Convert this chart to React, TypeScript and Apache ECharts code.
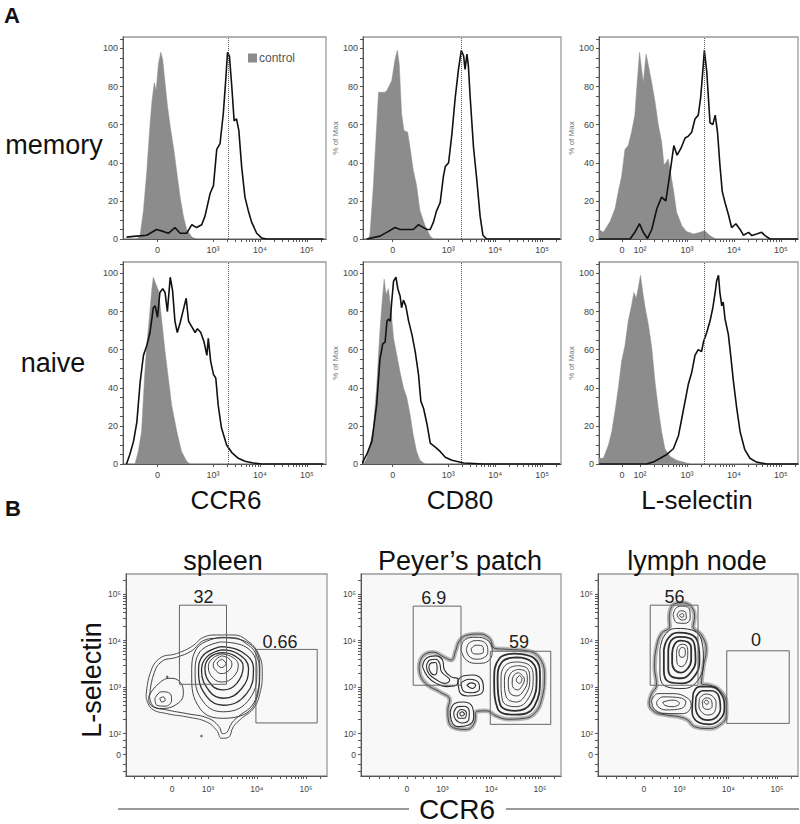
import React, { useEffect, useRef } from 'react';
import * as echarts from 'echarts';

type P = [number, number];

const FONT = '"Liberation Sans", Arial, Helvetica, sans-serif';

// ---------- Panel A: histograms (x = display decades, y = % of max) ----------
const ccr6MemoryControl: P[] = [[1.38,0],[1.45,2],[1.52,15],[1.59,35],[1.66,60],[1.70,72],[1.75,82],[1.79,78],[1.84,92],[1.89,98],[1.93,94],[1.98,82],[2.03,70],[2.09,59],[2.16,48],[2.23,35],[2.30,22],[2.37,12],[2.44,5],[2.55,1],[2.65,0]];
const ccr6MemorySample: P[] = [[1.16,1],[1.31,1.4],[1.59,2],[1.80,5],[1.94,4],[2.05,3],[2.19,6],[2.30,3],[2.44,3],[2.55,7.5],[2.65,6],[2.76,7.5],[2.83,12],[2.94,24],[3.01,28],[3.08,47],[3.15,50],[3.22,66],[3.27,83],[3.31,98],[3.35,96],[3.40,80],[3.45,62],[3.50,63],[3.55,57],[3.61,38],[3.68,22],[3.75,15],[3.82,9],[3.93,3],[4.04,0.5],[4.14,0],[5.35,0]];
const cd80MemoryControl: P[] = [[1.31,0],[1.34,3],[1.41,28],[1.48,59],[1.52,77],[1.59,77],[1.66,77],[1.70,78],[1.80,83],[1.87,94],[1.92,99],[1.96,92],[2.01,66],[2.06,57],[2.14,56],[2.19,48],[2.26,36],[2.33,28],[2.40,15],[2.51,7],[2.62,1.5],[2.69,0]];
const cd80MemorySample: P[] = [[1.27,0],[1.55,1.5],[1.73,4],[1.87,6],[1.98,5],[2.09,5],[2.19,5],[2.26,5],[2.37,7.5],[2.44,6.5],[2.55,5],[2.62,5],[2.69,9],[2.75,14.5],[2.83,19],[2.90,33],[2.94,38],[3.01,40],[3.08,55],[3.15,74],[3.22,89],[3.28,99],[3.33,96],[3.36,89],[3.40,97],[3.43,91],[3.47,74],[3.54,48],[3.61,31],[3.68,12],[3.74,2],[3.82,0],[5.38,0]];
const lselMemoryControl: P[] = [[1.13,5],[1.22,3.5],[1.36,9],[1.47,16],[1.54,25],[1.61,33],[1.68,47],[1.75,49],[1.82,56],[1.89,65],[1.94,82],[1.99,98],[2.04,88],[2.07,82],[2.13,97],[2.18,91],[2.25,82],[2.32,72],[2.39,60],[2.46,51],[2.51,39],[2.55,40],[2.60,42],[2.65,35],[2.71,26],[2.78,14],[2.89,7],[2.99,4],[3.14,2.6],[3.28,3.5],[3.38,4.4],[3.45,2.6],[3.53,1],[3.63,0]];
const lselMemorySample: P[] = [[1.13,0],[1.79,0],[1.89,3.5],[1.99,8],[2.07,3.5],[2.16,0.3],[2.25,5],[2.36,16],[2.46,22],[2.55,20],[2.64,35],[2.72,49],[2.79,44],[2.87,47.5],[2.96,53],[3.03,54],[3.10,56],[3.17,63],[3.24,65],[3.29,74],[3.33,86],[3.37,99],[3.42,88],[3.49,61],[3.55,60],[3.60,65],[3.65,56],[3.70,39],[3.75,25],[3.81,19],[3.88,13],[3.95,6],[4.04,8],[4.13,5],[4.20,2],[4.31,3.5],[4.38,1.8],[4.48,2.6],[4.59,3.5],[4.66,1.8],[4.77,0],[5.36,0]];
const ccr6NaiveControl: P[] = [[1.34,0],[1.41,6.6],[1.48,17],[1.55,48],[1.59,62],[1.65,78],[1.70,92],[1.73,98],[1.79,94],[1.84,91],[1.91,75],[1.98,59],[2.05,45],[2.12,31],[2.23,17],[2.33,6.6],[2.44,1.4],[2.51,0]];
const ccr6NaiveSample: P[] = [[1.16,0],[1.23,5],[1.31,12],[1.38,22],[1.45,43],[1.52,57],[1.59,62],[1.66,69],[1.73,82],[1.77,83],[1.82,77],[1.87,90],[1.93,92],[1.98,90],[2.03,80],[2.09,98],[2.14,91],[2.19,75],[2.24,69],[2.30,74],[2.37,81],[2.43,87],[2.48,75],[2.55,72],[2.62,69],[2.67,71],[2.74,69],[2.81,64],[2.87,57],[2.90,66],[2.95,54],[3.01,47],[3.06,45],[3.11,31],[3.18,19],[3.29,10],[3.40,6],[3.54,3],[3.68,1.4],[3.86,0.5],[4.04,0],[5.35,0]];
const cd80NaiveControl: P[] = [[1.20,0],[1.27,3],[1.34,10],[1.41,19],[1.48,40],[1.54,66],[1.59,83],[1.64,97],[1.68,89],[1.73,92],[1.78,82],[1.84,66],[1.91,57],[1.98,48],[2.05,40],[2.12,35],[2.19,26],[2.26,15],[2.33,6.6],[2.40,2],[2.51,0]];
const cd80NaiveSample: P[] = [[1.16,0],[1.27,5],[1.38,12],[1.48,31],[1.55,55],[1.61,63],[1.66,64],[1.70,75],[1.73,76],[1.77,75],[1.80,85],[1.84,96],[1.89,98],[1.93,92],[1.98,88],[2.01,82],[2.05,86],[2.10,83],[2.16,75],[2.23,68],[2.30,59],[2.37,47],[2.42,33],[2.48,29],[2.55,21],[2.62,11],[2.72,9],[2.83,6.6],[2.94,3.5],[3.08,2],[3.33,0.5],[3.75,0],[5.38,0]];
const lselNaiveControl: P[] = [[1.13,3],[1.22,3],[1.33,10],[1.40,17],[1.47,28],[1.54,40],[1.61,54],[1.68,62],[1.75,75],[1.82,83],[1.87,90],[1.92,87],[1.96,92],[2.01,99],[2.06,90],[2.11,82],[2.18,73],[2.25,61],[2.32,43],[2.39,29],[2.46,17],[2.53,8],[2.64,4],[2.78,2],[2.92,1],[3.06,0]];
const lselNaiveSample: P[] = [[1.13,0],[2.14,0],[2.28,1],[2.43,3],[2.57,5],[2.71,8],[2.82,15],[2.89,24],[2.96,33],[3.03,42],[3.10,48],[3.17,57],[3.24,60],[3.31,59],[3.35,64],[3.42,69],[3.49,75],[3.55,82],[3.60,90],[3.63,96],[3.67,99],[3.70,90],[3.74,83],[3.77,85],[3.81,76],[3.88,68],[3.93,57],[3.99,43],[4.06,29],[4.13,17],[4.23,7.5],[4.34,3],[4.48,1],[4.70,0],[5.37,0]];

// reference (dotted) line positions per marker column
const markerRefLines = [3.33, 3.27, 3.36];

// tick label positions/labels
const stdTickPos = [1.82, 3, 4, 5];
const stdTickLabels = ['0', '10³', '10⁴', '10⁵'];
const lselTickPos = [1.62, 2, 3, 4, 5];
const lselTickLabels = ['0', '10²', '10³', '10⁴', '10⁵'];
const pctTickPos = [0, 20, 40, 60, 80, 100];
const bXTickPos = [2.27, 3, 4, 5];
const bXTickLabels = ['0', '10³', '10⁴', '10⁵'];
const bYTickPos = [1.55, 2, 3, 4, 5];
const bYTickLabels = ['0', '10²', '10³', '10⁴', '10⁵'];

// ---------- Panel B: contour plots (x = CCR6 decades, y = L-selectin decades) ----------
const spleenEnvelope: P[] = [[1.74,2.79],[1.82,3.29],[2.02,3.62],[2.36,3.72],[2.67,3.87],[2.91,4.07],[3.18,4.12],[3.52,4.12],[3.79,4.01],[4.03,3.72],[4.11,3.29],[4.06,2.86],[3.93,2.54],[3.69,2.33],[3.52,2.15],[3.42,1.92],[3.28,1.90],[3.18,2.07],[2.98,2.25],[2.57,2.36],[2.16,2.43],[1.85,2.54],[1.74,2.79]];
const spleenEnvelope2: P[] = [[1.81,2.79],[1.89,3.26],[2.06,3.55],[2.36,3.64],[2.67,3.78],[2.91,4.00],[3.18,4.05],[3.52,4.06],[3.76,3.95],[3.98,3.71],[4.05,3.29],[4.01,2.88],[3.89,2.59],[3.66,2.40],[3.49,2.23],[3.38,2.02],[3.30,2.00],[3.23,2.15],[3.01,2.33],[2.57,2.43],[2.16,2.51],[1.89,2.59],[1.81,2.79]];
const spleenMainRings: P[][] = [
  [[3.25,4.07],[3.79,3.97],[4.06,3.44],[3.96,2.65],[3.32,2.33],[2.84,2.54],[2.67,3.29],[2.77,3.83],[3.25,4.07]],
  [[3.26,3.97],[3.76,3.87],[4.00,3.40],[3.86,2.76],[3.32,2.47],[2.91,2.68],[2.74,3.29],[2.84,3.76],[3.26,3.97]],
  [[3.27,3.87],[3.69,3.76],[3.93,3.40],[3.79,2.86],[3.32,2.61],[2.98,2.79],[2.81,3.33],[2.91,3.69],[3.27,3.87]],
  [[3.28,3.80],[3.62,3.71],[3.83,3.40],[3.69,2.97],[3.32,2.76],[3.04,2.90],[2.87,3.37],[2.98,3.65],[3.28,3.80]],
  [[3.28,3.74],[3.55,3.67],[3.72,3.44],[3.59,3.08],[3.32,2.94],[3.08,3.04],[2.94,3.40],[3.04,3.64],[3.28,3.74]],
  [[3.28,3.71],[3.49,3.65],[3.62,3.47],[3.52,3.22],[3.30,3.11],[3.11,3.19],[3.01,3.44],[3.10,3.62],[3.28,3.71]],
  [[3.28,3.67],[3.42,3.62],[3.49,3.49],[3.42,3.35],[3.28,3.29],[3.17,3.35],[3.11,3.47],[3.17,3.60],[3.28,3.67]],
  [[3.28,3.60],[3.37,3.51],[3.28,3.42],[3.19,3.51],[3.28,3.60]],
];
const spleenLobeRings: P[][] = [
  [[1.79,2.79],[1.96,3.04],[2.23,3.19],[2.43,3.11],[2.50,2.86],[2.33,2.61],[2.02,2.54],[1.81,2.65],[1.79,2.79]],
  [[1.92,2.76],[2.06,2.90],[2.23,2.86],[2.26,2.72],[2.13,2.59],[1.96,2.61],[1.92,2.76]],
  [[2.02,2.76],[2.09,2.79],[2.13,2.72],[2.06,2.68],[2.02,2.76]],
];
const spleenStrays: P[] = [[2.87,1.95],[2.17,3.22]];

const peyerEnvelope: P[] = [[2.52,3.44],[2.60,3.67],[2.81,3.75],[3.02,3.65],[3.18,3.58],[3.27,3.78],[3.35,4.00],[3.52,4.12],[3.76,4.14],[3.96,4.05],[4.08,3.83],[4.37,3.81],[4.78,3.77],[5.02,3.58],[5.09,3.22],[5.04,2.76],[4.90,2.45],[4.68,2.33],[4.34,2.31],[4.10,2.38],[3.90,2.49],[3.69,2.47],[3.66,2.25],[3.49,2.09],[3.28,2.11],[3.13,2.25],[3.11,2.51],[3.15,2.72],[2.94,2.90],[2.70,3.04],[2.55,3.24],[2.52,3.44]];
const peyerRightRings: P[][] = [
  [[4.47,3.72],[4.88,3.62],[5.00,3.22],[4.88,2.58],[4.51,2.41],[4.13,2.54],[4.06,3.15],[4.17,3.62],[4.47,3.72]],
  [[4.51,3.64],[4.83,3.54],[4.93,3.21],[4.81,2.65],[4.49,2.49],[4.18,2.63],[4.13,3.15],[4.22,3.54],[4.51,3.64]],
  [[4.52,3.54],[4.78,3.47],[4.86,3.19],[4.74,2.72],[4.49,2.58],[4.23,2.72],[4.20,3.15],[4.29,3.47],[4.52,3.54]],
  [[4.54,3.46],[4.74,3.40],[4.79,3.17],[4.70,2.83],[4.51,2.68],[4.30,2.81],[4.27,3.14],[4.35,3.39],[4.54,3.46]],
  [[4.55,3.38],[4.71,3.33],[4.74,3.15],[4.66,2.92],[4.52,2.81],[4.37,2.90],[4.35,3.11],[4.41,3.31],[4.55,3.38]],
  [[4.56,3.31],[4.68,3.17],[4.62,3.01],[4.54,2.94],[4.44,3.01],[4.43,3.11],[4.47,3.26],[4.56,3.31]],
  [[4.58,3.25],[4.63,3.18],[4.58,3.08],[4.51,3.15],[4.58,3.25]],
];
const peyerMiddleRings: P[][] = [
  [[3.32,3.15],[3.42,3.24],[3.62,3.26],[3.81,3.15],[3.84,2.97],[3.73,2.83],[3.52,2.81],[3.35,2.90],[3.32,3.15]],
  [[3.38,3.09],[3.55,3.17],[3.73,3.11],[3.76,2.97],[3.62,2.88],[3.45,2.90],[3.38,3.09]],
  [[3.50,3.04],[3.59,3.09],[3.68,3.04],[3.61,2.97],[3.50,3.04]],
];
const peyerBottomRings: P[][] = [
  [[3.16,2.47],[3.25,2.65],[3.42,2.68],[3.61,2.58],[3.64,2.36],[3.52,2.18],[3.32,2.15],[3.18,2.29],[3.16,2.47]],
  [[3.23,2.45],[3.32,2.58],[3.45,2.59],[3.55,2.47],[3.54,2.30],[3.40,2.23],[3.27,2.30],[3.23,2.45]],
  [[3.30,2.43],[3.38,2.52],[3.49,2.45],[3.45,2.33],[3.34,2.33],[3.30,2.43]],
  [[3.35,2.43],[3.40,2.47],[3.45,2.42],[3.39,2.38],[3.35,2.43]],
];
const peyerTopRings: P[][] = [
  [[3.38,3.80],[3.45,4.01],[3.69,4.07],[3.93,4.00],[4.02,3.80],[3.96,3.58],[3.72,3.51],[3.49,3.58],[3.38,3.80]],
  [[3.49,3.81],[3.55,3.95],[3.72,4.00],[3.90,3.92],[3.93,3.76],[3.86,3.64],[3.69,3.60],[3.54,3.67],[3.49,3.81]],
  [[3.59,3.83],[3.69,3.90],[3.83,3.87],[3.84,3.76],[3.72,3.71],[3.61,3.74],[3.59,3.83]],
];
const peyerArmRings: P[][] = [
  [[2.59,3.44],[2.67,3.62],[2.86,3.67],[3.00,3.58],[3.04,3.37],[3.18,3.22],[3.32,3.17],[3.28,3.04],[3.08,3.01],[2.87,3.08],[2.70,3.22],[2.59,3.44]],
  [[2.67,3.45],[2.74,3.58],[2.86,3.60],[2.94,3.52],[2.98,3.33],[3.15,3.15],[3.04,3.08],[2.86,3.17],[2.72,3.29],[2.67,3.45]],
  [[2.72,3.44],[2.77,3.52],[2.86,3.53],[2.89,3.40],[2.84,3.26],[2.76,3.31],[2.72,3.44]],
];

const lymphEnvelope: P[] = [[2.80,4.62],[2.90,4.79],[3.07,4.81],[3.24,4.73],[3.31,4.51],[3.28,4.30],[3.45,4.12],[3.55,3.80],[3.49,3.44],[3.45,3.08],[3.62,3.04],[3.82,2.94],[3.96,2.65],[3.96,2.40],[3.82,2.18],[3.58,2.11],[3.31,2.15],[3.17,2.29],[3.00,2.36],[2.73,2.40],[2.49,2.47],[2.38,2.65],[2.43,2.86],[2.53,3.04],[2.49,3.44],[2.53,3.87],[2.63,4.15],[2.80,4.30],[2.79,4.48],[2.80,4.62]];
const lymphTopRings: P[][] = [
  [[2.87,4.55],[2.94,4.71],[3.07,4.74],[3.21,4.66],[3.22,4.48],[3.11,4.37],[2.95,4.38],[2.87,4.55]],
  [[2.95,4.55],[3.02,4.64],[3.13,4.60],[3.14,4.48],[3.04,4.44],[2.95,4.55]],
  [[3.00,4.55],[3.06,4.58],[3.09,4.53],[3.04,4.50],[3.00,4.55]],
];
const lymphUpperRings: P[][] = [
  [[2.60,3.80],[2.70,4.12],[2.94,4.26],[3.24,4.23],[3.45,4.01],[3.49,3.58],[3.38,3.15],[3.07,2.97],[2.73,3.01],[2.60,3.29],[2.60,3.80]],
  [[2.68,3.80],[2.77,4.05],[2.97,4.17],[3.22,4.14],[3.38,3.95],[3.41,3.58],[3.31,3.24],[3.06,3.08],[2.79,3.11],[2.68,3.35],[2.68,3.80]],
  [[2.77,3.76],[2.83,4.00],[3.00,4.08],[3.21,4.05],[3.31,3.90],[3.33,3.58],[3.24,3.33],[3.04,3.19],[2.85,3.22],[2.77,3.40],[2.77,3.76]],
  [[2.85,3.72],[2.90,3.92],[3.02,4.00],[3.17,3.97],[3.24,3.83],[3.24,3.58],[3.17,3.40],[3.02,3.31],[2.90,3.37],[2.85,3.51],[2.85,3.72]],
  [[2.94,3.72],[2.97,3.87],[3.06,3.92],[3.15,3.88],[3.17,3.74],[3.14,3.54],[3.04,3.44],[2.95,3.52],[2.94,3.72]],
  [[2.99,3.76],[3.04,3.85],[3.11,3.83],[3.12,3.72],[3.07,3.64],[3.00,3.67],[2.99,3.76]],
];
const lymphLowerRings: P[][] = [
  [[3.28,2.86],[3.41,3.01],[3.65,3.01],[3.85,2.86],[3.92,2.58],[3.85,2.33],[3.62,2.20],[3.38,2.25],[3.26,2.47],[3.28,2.86]],
  [[3.34,2.79],[3.48,2.92],[3.65,2.92],[3.81,2.79],[3.84,2.54],[3.75,2.35],[3.58,2.29],[3.41,2.36],[3.33,2.58],[3.34,2.79]],
  [[3.41,2.76],[3.53,2.85],[3.67,2.81],[3.75,2.66],[3.72,2.47],[3.58,2.40],[3.45,2.47],[3.40,2.61],[3.41,2.76]],
  [[3.47,2.71],[3.55,2.77],[3.65,2.72],[3.67,2.59],[3.58,2.52],[3.48,2.58],[3.47,2.71]],
  [[3.50,2.68],[3.55,2.72],[3.60,2.67],[3.56,2.63],[3.50,2.68]],
];
const lymphLeftRings: P[][] = [
  [[2.43,2.72],[2.56,2.86],[2.87,2.86],[3.17,2.76],[3.24,2.61],[3.07,2.43],[2.73,2.43],[2.49,2.52],[2.43,2.72]],
  [[2.53,2.68],[2.66,2.79],[2.94,2.78],[3.13,2.68],[3.04,2.54],[2.73,2.51],[2.56,2.58],[2.53,2.68]],
  [[2.66,2.68],[2.87,2.72],[3.00,2.65],[2.87,2.58],[2.70,2.61],[2.66,2.68]],
];

// gates: [xMin, yMin, xMax, yMax]
const spleenGates = [[2.42, 3.06, 3.38, 4.76], [3.98, 2.23, 5.23, 3.81]];
const peyerGates = [[2.40, 3.04, 3.38, 4.74], [3.98, 2.20, 5.22, 3.77]];
const lymphGates = [[2.40, 3.04, 3.38, 4.76], [3.97, 2.22, 5.25, 3.78]];
// gate percentages and label anchor positions
const spleenPercents = ['32', '0.66'];
const peyerPercents = ['6.9', '59'];
const lymphPercents = ['56', '0'];
const spleenLabelPos: P[] = [[2.91, 4.94], [4.47, 3.97]];
const peyerLabelPos: P[] = [[2.82, 4.91], [4.57, 3.97]];
const lymphLabelPos: P[] = [[2.90, 4.94], [4.57, 4.01]];

// ---------- layout ----------
const HIST_COLS = [
  { left: 123, width: 203, min: 1.085, max: 5.405 },
  { left: 363, width: 198, min: 1.19, max: 5.40 },
  { left: 599, width: 199, min: 1.128, max: 5.362 },
];
const HIST_TOPS = [37, 262];
const B_COLS = [{ left: 126, width: 201 }, { left: 361, width: 200 }, { left: 598, width: 200 }];

const histPanels = [
  { ctrl: ccr6MemoryControl, sample: ccr6MemorySample, row: 0, col: 0 },
  { ctrl: cd80MemoryControl, sample: cd80MemorySample, row: 0, col: 1 },
  { ctrl: lselMemoryControl, sample: lselMemorySample, row: 0, col: 2 },
  { ctrl: ccr6NaiveControl, sample: ccr6NaiveSample, row: 1, col: 0 },
  { ctrl: cd80NaiveControl, sample: cd80NaiveSample, row: 1, col: 1 },
  { ctrl: lselNaiveControl, sample: lselNaiveSample, row: 1, col: 2 },
];

function logMinor(decades: number[], max: number) {
  const out: number[] = [];
  decades.forEach((k) => {
    for (let m = 2; m <= 9; m++) {
      const v = k + Math.log10(m);
      if (v < max) out.push(v);
    }
  });
  return out;
}

function labelFmt(pos: number[], labels: string[]) {
  return (v: number) => {
    const i = pos.findIndex((t) => Math.abs(t - v) < 1e-6);
    return i >= 0 ? labels[i] : '';
  };
}

function buildOption() {
  const grid: any[] = [];
  const xAxis: any[] = [];
  const yAxis: any[] = [];
  const series: any[] = [];
  const axisLineStyle = { color: '#555', width: 1 };

  histPanels.forEach((p, i) => {
    const c = HIST_COLS[p.col];
    grid.push({ left: c.left, top: HIST_TOPS[p.row], width: c.width, height: 202, show: true, borderColor: '#9a9a9a', borderWidth: 1.3, backgroundColor: '#fff' });
    const isL = p.col === 2;
    const pos = isL ? lselTickPos : stdTickPos;
    const labs = isL ? lselTickLabels : stdTickLabels;
    const minor = logMinor(isL ? [2, 3, 4, 5] : [3, 4, 5], c.max);
    xAxis.push({
      type: 'value', gridIndex: i, min: c.min, max: c.max,
      axisLine: { show: true, onZero: false, lineStyle: axisLineStyle },
      axisTick: { show: true, customValues: pos.concat(minor), length: 3, lineStyle: axisLineStyle },
      axisLabel: { customValues: pos, formatter: labelFmt(pos, labs), fontSize: 9, color: '#444', margin: 6, fontFamily: FONT },
      splitLine: { show: false },
    });
    const pctMinor: number[] = [];
    for (let v = 5; v < 106; v += 5) if (v % 20 !== 0) pctMinor.push(v);
    yAxis.push({
      type: 'value', gridIndex: i, min: 0, max: 106,
      name: p.col > 0 ? '% of Max' : '', nameLocation: 'middle', nameGap: 22, nameRotate: 90,
      nameTextStyle: { fontSize: 8, color: '#777', fontFamily: FONT },
      axisLine: { show: true, lineStyle: axisLineStyle },
      axisTick: { show: true, customValues: pctTickPos.concat(pctMinor), length: 3, lineStyle: axisLineStyle },
      axisLabel: { customValues: pctTickPos, fontSize: 9, color: '#444', margin: 5, fontFamily: FONT },
      splitLine: { show: false },
    });
    series.push({
      name: 'control', type: 'line', xAxisIndex: i, yAxisIndex: i, data: p.ctrl,
      showSymbol: false, symbol: 'none', color: '#8c8c8c',
      lineStyle: { color: '#8c8c8c', width: 0.5 }, areaStyle: { color: '#8c8c8c', opacity: 1 },
      silent: true, z: 2,
    });
    series.push({
      name: 'sample', type: 'line', xAxisIndex: i, yAxisIndex: i, data: p.sample,
      showSymbol: false, symbol: 'none', color: '#111',
      lineStyle: { color: '#111', width: 1.6 }, silent: true, z: 3,
      markLine: {
        silent: true, symbol: ['none', 'none'], label: { show: false },
        lineStyle: { type: 'dotted', color: '#555', width: 1 },
        data: [{ xAxis: markerRefLines[p.col] }],
      },
    });
  });

  const bPanels = [
    { env: spleenEnvelope, halo: false, groups: [
      { rings: [spleenEnvelope2], w: 0.9 },
      { rings: spleenMainRings.slice(0, 2), w: 0.9 },
      { rings: spleenMainRings.slice(2, 5), w: 1.3 },
      { rings: spleenMainRings.slice(5), w: 0.9 },
      { rings: spleenLobeRings, w: 0.9 },
    ], gates: spleenGates, pct: spleenPercents, lab: spleenLabelPos, strays: spleenStrays },
    { env: peyerEnvelope, halo: true, groups: [
      { rings: peyerRightRings.slice(0, 2), w: 1.8 },
      { rings: peyerRightRings.slice(2), w: 0.9 },
      { rings: peyerMiddleRings, w: 1.1 },
      { rings: peyerBottomRings, w: 1.1 },
      { rings: peyerTopRings, w: 0.9 },
      { rings: peyerArmRings, w: 1.1 },
    ], gates: peyerGates, pct: peyerPercents, lab: peyerLabelPos, strays: [] as P[] },
    { env: lymphEnvelope, halo: true, groups: [
      { rings: lymphTopRings, w: 0.9 },
      { rings: lymphUpperRings.slice(0, 1), w: 1.0 },
      { rings: lymphUpperRings.slice(1, 4), w: 1.8 },
      { rings: lymphUpperRings.slice(4), w: 0.9 },
      { rings: lymphLowerRings.slice(0, 2), w: 1.6 },
      { rings: lymphLowerRings.slice(2), w: 0.9 },
      { rings: lymphLeftRings, w: 0.9 },
    ], gates: lymphGates, pct: lymphPercents, lab: lymphLabelPos, strays: [] as P[] },
  ];

  const bXMinor = logMinor([3, 4, 5], 5.43).concat([1.5, 1.7, 1.9, 2.1, 2.45, 2.6, 2.75, 2.87]);
  const bYMinor = logMinor([2, 3, 4, 5], 5.43).concat([1.2, 1.35, 1.7, 1.85]);

  bPanels.forEach((p, j) => {
    const gi = 6 + j;
    grid.push({ left: B_COLS[j].left, top: 574, width: B_COLS[j].width, height: 202, show: true, borderColor: '#9a9a9a', borderWidth: 1.3, backgroundColor: '#f8f8f8' });
    xAxis.push({
      type: 'value', gridIndex: gi, min: 1.33, max: 5.43,
      axisLine: { show: true, onZero: false, lineStyle: axisLineStyle },
      axisTick: { show: true, customValues: bXTickPos.concat(bXMinor), length: 3, lineStyle: axisLineStyle },
      axisLabel: { customValues: bXTickPos, formatter: labelFmt(bXTickPos, bXTickLabels), fontSize: 8.5, color: '#444', margin: 8, fontFamily: FONT },
      splitLine: { show: false },
    });
    yAxis.push({
      type: 'value', gridIndex: gi, min: 1.09, max: 5.43,
      axisLine: { show: true, onZero: false, lineStyle: axisLineStyle },
      axisTick: { show: true, customValues: bYTickPos.concat(bYMinor), length: 3, lineStyle: axisLineStyle },
      axisLabel: { customValues: bYTickPos, formatter: labelFmt(bYTickPos, bYTickLabels), fontSize: 8.5, color: '#444', margin: 5, fontFamily: FONT },
      splitLine: { show: false },
    });
    const contour = (d: P[], color: string, w: number, z: number) => ({
      type: 'line', xAxisIndex: gi, yAxisIndex: gi, data: d, showSymbol: false, symbol: 'none',
      smooth: 0.45, lineStyle: { color, width: w }, silent: true, z,
    });
    if (p.halo) series.push(contour(p.env, '#b4b4b4', 4.5, 2));
    series.push(contour(p.env, '#3c3c3c', 0.9, 3));
    p.groups.forEach((g) => g.rings.forEach((r) => series.push(contour(r, '#2e2e2e', g.w, 3))));
    p.gates.forEach((g) => {
      series.push({
        type: 'line', xAxisIndex: gi, yAxisIndex: gi, showSymbol: false, symbol: 'none', silent: true, z: 4,
        data: [[g[0], g[1]], [g[2], g[1]], [g[2], g[3]], [g[0], g[3]], [g[0], g[1]]],
        lineStyle: { color: '#666', width: 1 },
      });
    });
    series.push({
      type: 'scatter', xAxisIndex: gi, yAxisIndex: gi, symbol: 'circle', symbolSize: 0, silent: true, z: 5,
      itemStyle: { color: 'rgba(0,0,0,0)' },
      data: p.lab.map((pt, k) => ({ value: pt, name: p.pct[k] })),
      label: { show: true, position: 'inside', formatter: '{b}', fontSize: 18, color: '#222', opacity: 1, fontFamily: FONT },
    });
    if (p.strays.length) {
      series.push({
        type: 'scatter', xAxisIndex: gi, yAxisIndex: gi, symbolSize: 2.5, silent: true, z: 5,
        itemStyle: { color: '#444' }, data: p.strays,
      });
    }
  });

  const txt = (text: string, x: number, y: number, size: number, opts: any = {}) => ({
    type: 'text', x, y, rotation: opts.rotation || 0, silent: true,
    style: {
      text, fill: '#111', font: `${opts.bold ? 'bold ' : ''}${size}px ${FONT}`,
      align: 'center', verticalAlign: 'middle', textAlign: 'center', textVerticalAlign: 'middle',
    },
  });

  const graphic: any[] = [
    txt('A', 12, 15, 22, { bold: true }),
    txt('B', 13, 508, 22, { bold: true }),
    txt('memory', 54, 145, 27),
    txt('naive', 53, 363, 27),
    txt('CCR6', 226, 500, 26),
    txt('CD80', 460, 500, 26),
    txt('L-selectin', 697, 500, 26),
    txt('spleen', 223, 561, 27),
    txt("Peyer’s patch", 460, 561, 27),
    txt('lymph node', 697, 561, 27),
    txt('L-selectin', 92, 680, 27, { rotation: Math.PI / 2 }),
    txt('CCR6', 457, 809, 28),
    { type: 'line', silent: true, shape: { x1: 118, y1: 809, x2: 409, y2: 809 }, style: { stroke: '#9a9a9a', lineWidth: 2 } },
    { type: 'line', silent: true, shape: { x1: 506, y1: 809, x2: 799, y2: 809 }, style: { stroke: '#9a9a9a', lineWidth: 2 } },
  ];

  return {
    animation: false,
    backgroundColor: '#fff',
    textStyle: { fontFamily: FONT },
    legend: {
      data: ['control'], left: 243, top: 47, itemWidth: 9, itemHeight: 9, icon: 'rect',
      selectedMode: false, textStyle: { fontSize: 12, color: '#555', fontFamily: FONT, padding: [0, 0, 0, -3] },
    },
    grid, xAxis, yAxis, series, graphic,
  };
}

export default function App() {
  const ref = useRef<HTMLDivElement>(null);
  useEffect(() => {
    if (!ref.current) return;
    const chart = echarts.init(ref.current, null, { renderer: 'svg' });
    chart.setOption(buildOption() as any);
    return () => chart.dispose();
  }, []);
  return <div ref={ref} style={{ position: 'absolute', left: 0, top: 0, width: 800, height: 824, background: '#fff' }} />;
}
